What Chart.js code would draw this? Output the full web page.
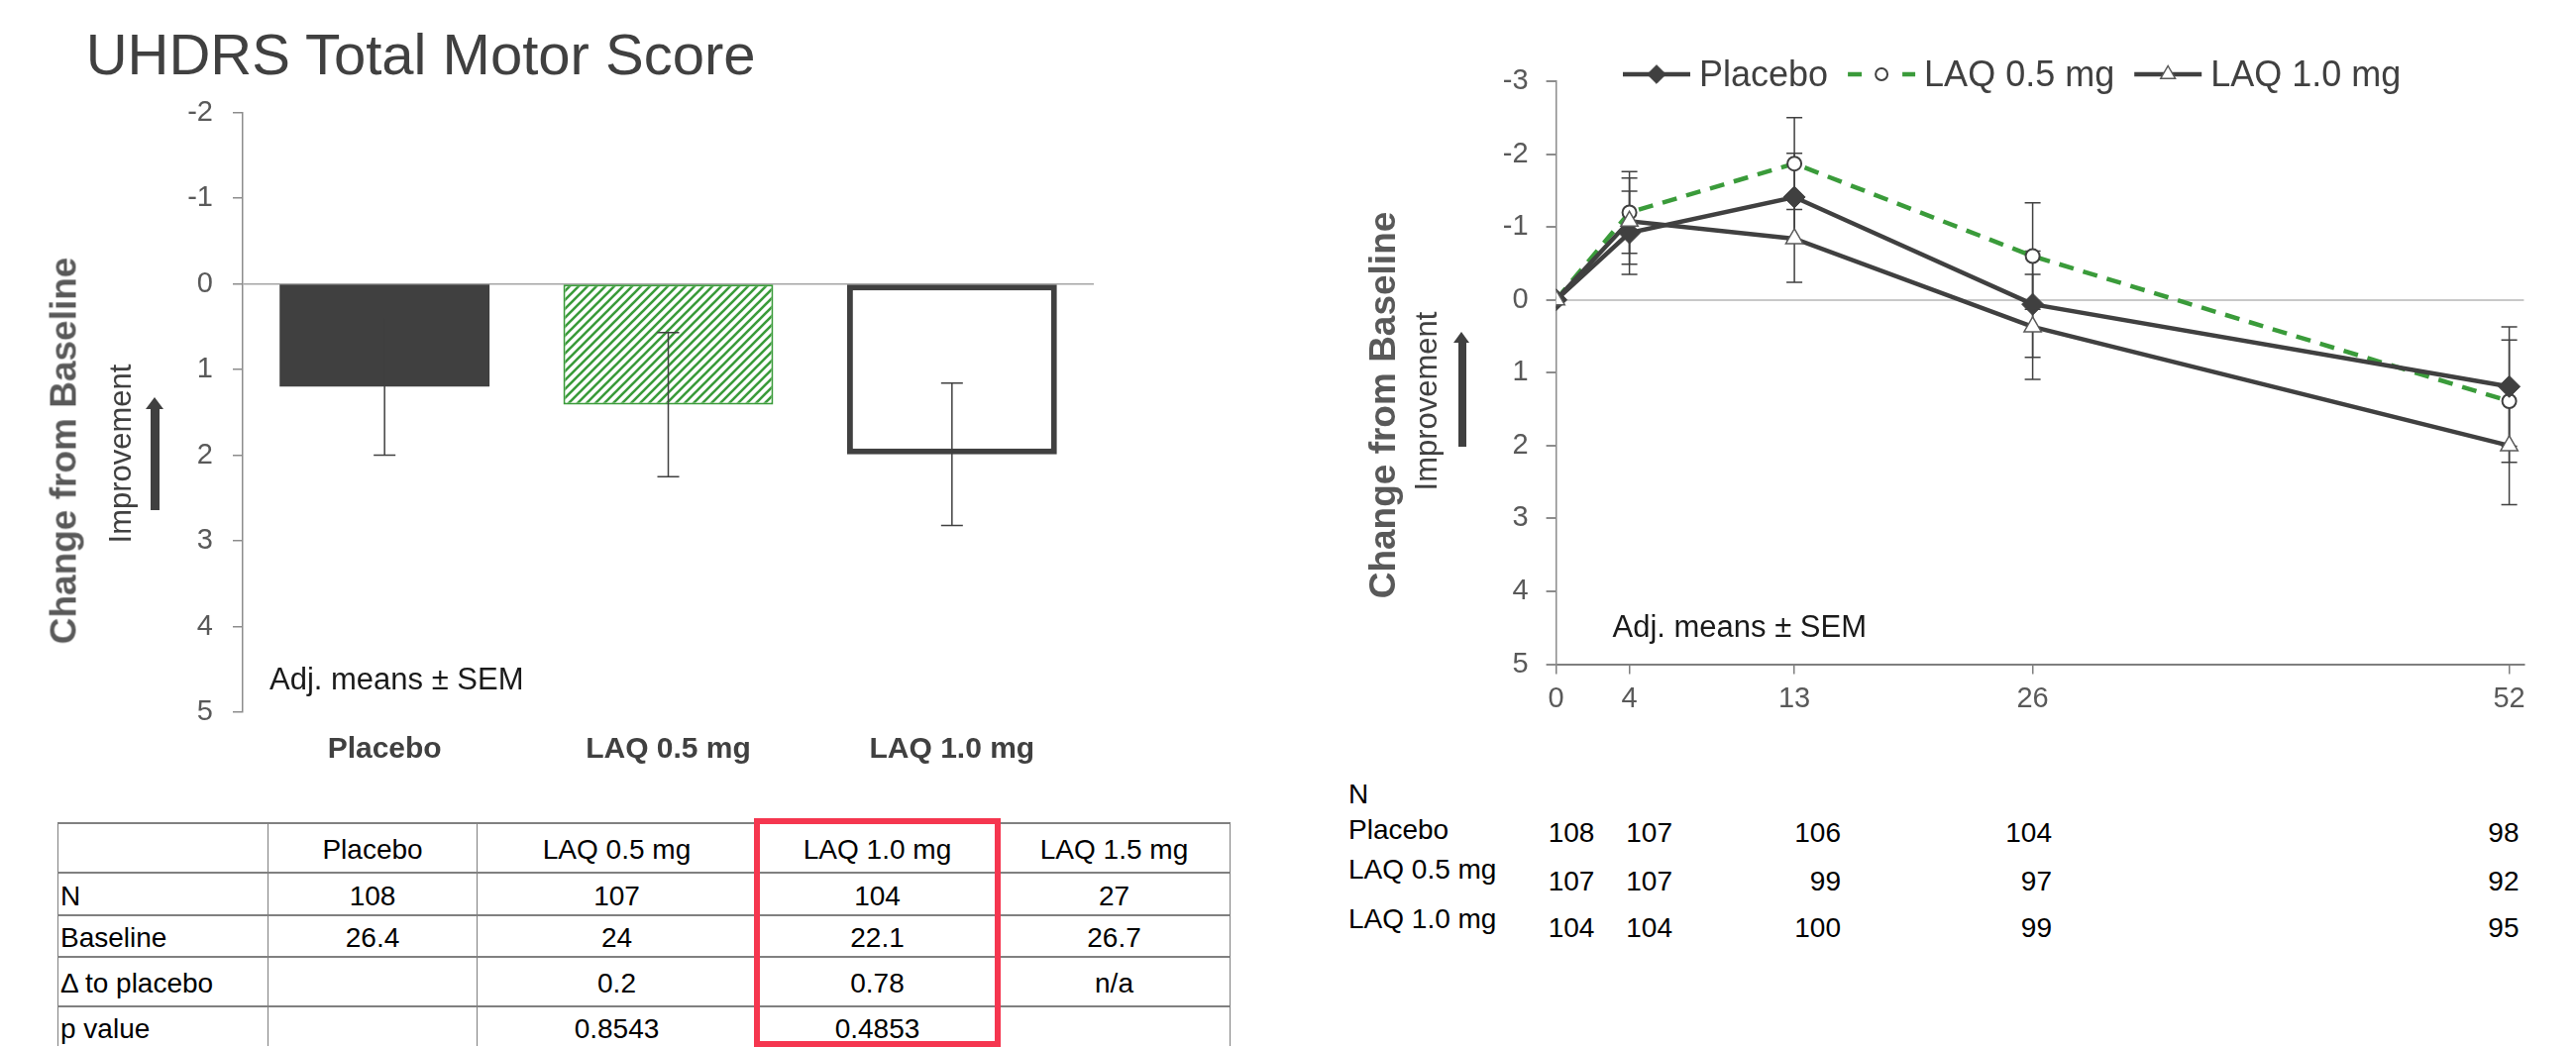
<!DOCTYPE html>
<html lang="en">
<head>
<meta charset="UTF-8">
<title>UHDRS Total Motor Score</title>
<script src="https://cdn.jsdelivr.net/npm/chart.js"></script>
<style>
  html, body { margin: 0; padding: 0; background: #fff; }
  body { position: relative; width: 2600px; height: 1057px; overflow: hidden;
         font-family: 'Liberation Sans', Arial, sans-serif; }
  .abs { position: absolute; white-space: nowrap; line-height: 1; }
  canvas { position: absolute; }
  #summary { position: absolute; left: 58px; top: 830px; border-collapse: collapse;
             font-size: 28px; color: #000; table-layout: fixed; }
  #summary td { border-left: 1px solid #7f7f7f; border-right: 1px solid #7f7f7f;
                border-top: 2px solid #808080; text-align: center; padding: 4px 0 0 0; }
  #summary td:first-child { text-align: left; padding-left: 2px; }
  #redBox { position: absolute; left: 761px; top: 826px; width: 249px; height: 231px;
            border: 6px solid #F5364F; box-sizing: border-box; }
</style>
</head>
<body>

<canvas id="barChart" width="1300" height="800" style="left:0;top:0"></canvas>
<canvas id="lineChart" width="1300" height="760" style="left:1300px;top:0"></canvas>
<table id="summary"></table>
<div id="redBox"></div>

<script>
// ---- data ----
const barCategories = ['Placebo', 'LAQ 0.5 mg', 'LAQ 1.0 mg'];
const barMeans = [1.2, 1.41, 1.99];
const barSem = [0.8, 0.84, 0.83];

const weeks = [0, 4, 13, 26, 52];
const seriesNames = ['Placebo', 'LAQ 0.5 mg', 'LAQ 1.0 mg'];
const placeboMeans = [0, -0.92, -1.41, 0.06, 1.19];
const placeboSem = [0, 0.57, 0.6, 0.73, 0.82];
const laq05Means = [0, -1.2, -1.87, -0.6, 1.39];
const laq05Sem = [0, 0.56, 0.63, 0.73, 0.84];
const laq10Means = [0, -1.08, -0.84, 0.37, 2.0];
const laq10Sem = [0, 0.59, 0.6, 0.72, 0.81];

const nPlacebo = [108, 107, 106, 104, 98];
const nLaq05 = [107, 107, 99, 97, 92];
const nLaq10 = [104, 104, 100, 99, 95];

const tableHeader = ['', 'Placebo', 'LAQ 0.5 mg', 'LAQ 1.0 mg', 'LAQ 1.5 mg'];
const tableN = ['N', '108', '107', '104', '27'];
const tableBaseline = ['Baseline', '26.4', '24', '22.1', '26.7'];
const tableDelta = ['\u0394 to placebo', '', '0.2', '0.78', 'n/a'];
const tablePValue = ['p value', '', '0.8543', '0.4853', ''];

// ---- styles ----
const DARK = '#404040';
const GREEN = '#3A9B3A';
const TICK = '#595959';
Chart.defaults.font.family = "'Liberation Sans', Arial, sans-serif";
Chart.defaults.animation = false;

// ---- text helpers ----
function addText(txt, x, base, size, opt = {}) {
  const d = document.createElement('div');
  d.className = 'abs';
  d.textContent = txt;
  d.style.fontSize = size + 'px';
  d.style.top = (base - 0.8465 * size) + 'px';
  if (opt.right) d.style.right = (2600 - x) + 'px'; else d.style.left = x + 'px';
  d.style.color = opt.color || '#000';
  if (opt.bold) d.style.fontWeight = 'bold';
  document.body.appendChild(d);
}
function addVText(txt, cx, cy, size, opt = {}) {
  const d = document.createElement('div');
  d.className = 'abs';
  d.textContent = txt;
  d.style.fontSize = size + 'px';
  d.style.left = cx + 'px';
  d.style.top = cy + 'px';
  d.style.transform = 'translate(-50%, -50%) rotate(-90deg)';
  d.style.color = opt.color || '#000';
  if (opt.bold) d.style.fontWeight = 'bold';
  document.body.appendChild(d);
}
function addArrow(cx, tip, bottom, shaftW, headW, headH) {
  const s = document.createElement('div');
  s.className = 'abs';
  Object.assign(s.style, { left: (cx - shaftW / 2) + 'px', top: (tip + headH - 1) + 'px',
    width: shaftW + 'px', height: (bottom - tip - headH + 1) + 'px', background: DARK });
  const h = document.createElement('div');
  h.className = 'abs';
  Object.assign(h.style, { left: (cx - headW / 2) + 'px', top: tip + 'px', width: 0, height: 0,
    borderLeft: (headW / 2) + 'px solid transparent', borderRight: (headW / 2) + 'px solid transparent',
    borderBottom: headH + 'px solid ' + DARK });
  document.body.appendChild(s);
  document.body.appendChild(h);
}

// ---- error bar plugin ----
function drawErrorBars(chart, opts) {
  const ctx = chart.ctx, ys = chart.scales.y;
  ctx.save();
  ctx.strokeStyle = opts.color;
  ctx.lineWidth = opts.width;
  chart.data.datasets.forEach((ds, i) => {
    if (!ds.sem) return;
    chart.getDatasetMeta(i).data.forEach((el, j) => {
      const e = ds.sem[j];
      if (!e) return;
      const v = typeof ds.data[j] === 'object' ? ds.data[j].y : ds.data[j];
      const x = el.x, y1 = ys.getPixelForValue(v - e), y2 = ys.getPixelForValue(v + e);
      ctx.beginPath();
      ctx.moveTo(x, y1); ctx.lineTo(x, y2);
      ctx.moveTo(x - opts.cap, y1); ctx.lineTo(x + opts.cap, y1);
      ctx.moveTo(x - opts.cap, y2); ctx.lineTo(x + opts.cap, y2);
      ctx.stroke();
    });
  });
  ctx.restore();
}
const errorBarPlugin = {
  id: 'errorBars',
  beforeDatasetsDraw(chart, args, opts) { if (opts.under) drawErrorBars(chart, opts); },
  afterDatasetsDraw(chart, args, opts) { if (!opts.under) drawErrorBars(chart, opts); }
};

// ---- legend with line + marker samples ----
function drawMarker(ctx, style, x, y, r, fill, stroke, lw) {
  ctx.beginPath();
  if (style === 'rectRot') {
    ctx.moveTo(x, y - r); ctx.lineTo(x + r, y); ctx.lineTo(x, y + r); ctx.lineTo(x - r, y);
  } else if (style === 'triangle') {
    ctx.moveTo(x, y - r); ctx.lineTo(x + r * 0.866, y + r * 0.5); ctx.lineTo(x - r * 0.866, y + r * 0.5);
  } else {
    ctx.arc(x, y, r, 0, Math.PI * 2);
  }
  ctx.closePath();
  ctx.fillStyle = fill; ctx.fill();
  ctx.lineWidth = lw; ctx.strokeStyle = stroke; ctx.stroke();
}
const lineLegendPlugin = {
  id: 'lineLegend',
  afterDraw(chart, args, opts) {
    const ctx = chart.ctx;
    let x = opts.x;
    const y = opts.y;
    ctx.save();
    chart.data.datasets.forEach(ds => {
      ctx.strokeStyle = ds.borderColor;
      ctx.lineWidth = ds.borderWidth;
      ctx.setLineDash(ds.borderDash ? opts.dash : []);
      ctx.beginPath(); ctx.moveTo(x, y); ctx.lineTo(x + opts.sample, y); ctx.stroke();
      ctx.setLineDash([]);
      drawMarker(ctx, ds.pointStyle, x + opts.sample / 2, y, ds.pointRadius * 0.85,
        ds.pointBackgroundColor, ds.pointBorderColor, ds.pointBorderWidth);
      ctx.font = opts.font;
      ctx.fillStyle = opts.color;
      ctx.textBaseline = 'alphabetic';
      const tx = x + opts.sample + opts.textGap;
      ctx.fillText(ds.label, tx, y + opts.baseShift);
      x = tx + ctx.measureText(ds.label).width + opts.itemGap;
    });
    ctx.restore();
  }
};

// ---- hatch pattern ----
function hatch(ctxTarget, color) {
  const c = document.createElement('canvas');
  c.width = 9; c.height = 9;
  const g = c.getContext('2d');
  g.fillStyle = '#fff'; g.fillRect(0, 0, 9, 9);
  g.strokeStyle = color; g.lineWidth = 2.6;
  g.beginPath();
  g.moveTo(0, 9); g.lineTo(9, 0);
  g.moveTo(-1, 1); g.lineTo(1, -1);
  g.moveTo(8, 10); g.lineTo(10, 8);
  g.stroke();
  return ctxTarget.createPattern(c, 'repeat');
}

// ---- left: bar chart ----
const barCtx = document.getElementById('barChart').getContext('2d');
new Chart(barCtx, {
  type: 'bar',
  data: {
    labels: barCategories,
    datasets: [{
      data: barMeans,
      sem: barSem,
      backgroundColor: [DARK, hatch(barCtx, GREEN), '#fff'],
      borderColor: [DARK, GREEN, DARK],
      borderWidth: [0, 2, 6],
      borderSkipped: false,
      barPercentage: 0.74,
      categoryPercentage: 1.0
    }]
  },
  options: {
    responsive: false,
    layout: { padding: { left: 0, top: 113.5, right: 196, bottom: 0 } },
    plugins: {
      legend: { display: false },
      tooltip: { enabled: false },
      errorBars: { under: false, color: DARK, width: 1.5, cap: 11 }
    },
    scales: {
      x: {
        grid: { display: false, drawTicks: false },
        border: { display: false },
        ticks: { color: DARK, font: { size: 30, weight: 'bold' }, padding: 20 },
        afterFit: s => { s.height = 81; s.paddingLeft = 0; s.paddingRight = 0; }
      },
      y: {
        reverse: true, min: -2, max: 5,
        ticks: { stepSize: 1, color: TICK, font: { size: 29 }, padding: 20 },
        grid: {
          color: c => (c.tick && c.tick.value === 0) ? '#a6a6a6' : 'rgba(0,0,0,0)',
          lineWidth: 1.5, tickColor: '#8c8c8c', tickLength: 10
        },
        border: { color: '#8c8c8c', width: 1.5 },
        afterFit: s => { s.width = 245; s.paddingTop = 0; s.paddingBottom = 0; }
      }
    }
  },
  plugins: [errorBarPlugin]
});

// ---- right: line chart ----
const toPoints = vals => weeks.map((w, i) => ({ x: w, y: vals[i] }));
new Chart(document.getElementById('lineChart'), {
  type: 'line',
  data: {
    datasets: [{
      label: seriesNames[0], data: toPoints(placeboMeans), sem: placeboSem, order: 2,
      borderColor: DARK, borderWidth: 4.5,
      pointStyle: 'rectRot', pointRadius: 11,
      pointBackgroundColor: DARK, pointBorderColor: DARK, pointBorderWidth: 1
    }, {
      label: seriesNames[1], data: toPoints(laq05Means), sem: laq05Sem, order: 3,
      borderColor: GREEN, borderWidth: 4.5, borderDash: [15, 10],
      pointStyle: 'circle', pointRadius: 7,
      pointBackgroundColor: '#fff', pointBorderColor: DARK, pointBorderWidth: 2
    }, {
      label: seriesNames[2], data: toPoints(laq10Means), sem: laq10Sem, order: 1,
      borderColor: DARK, borderWidth: 4.5,
      pointStyle: 'triangle', pointRadius: 10,
      pointBackgroundColor: '#fff', pointBorderColor: '#595959', pointBorderWidth: 1.5
    }]
  },
  options: {
    responsive: false,
    layout: { padding: { left: 0, top: 82, right: 52.6, bottom: 0 } },
    plugins: {
      legend: { display: false },
      tooltip: { enabled: false },
      errorBars: { under: true, color: DARK, width: 1.5, cap: 8 },
      lineLegend: { x: 338, y: 75, sample: 68, textGap: 9, itemGap: 20, dash: [14, 41],
                    baseShift: 12, font: "36px 'Liberation Sans', Arial, sans-serif", color: DARK }
    },
    scales: {
      x: {
        type: 'linear', min: 0, max: 52.8,
        afterBuildTicks: s => { s.ticks = weeks.map(v => ({ value: v })); },
        ticks: { color: TICK, font: { size: 29 }, padding: 7.5, autoSkip: false, maxRotation: 0 },
        grid: { drawOnChartArea: false, tickLength: 10, tickColor: '#7f7f7f', lineWidth: 1.5 },
        border: { color: '#7f7f7f', width: 2 },
        afterFit: s => { s.height = 89.4; s.paddingLeft = 0; s.paddingRight = 0; }
      },
      y: {
        reverse: true, min: -3, max: 5,
        ticks: { stepSize: 1, color: TICK, font: { size: 29 }, padding: 18 },
        grid: {
          color: c => (c.tick && c.tick.value === 0) ? '#c8c8c8' : 'rgba(0,0,0,0)',
          lineWidth: 2, tickColor: '#8c8c8c', tickLength: 10
        },
        border: { color: '#8c8c8c', width: 1.5 },
        afterFit: s => { s.width = 270.6; s.paddingTop = 0; s.paddingBottom = 0; }
      }
    }
  },
  plugins: [errorBarPlugin, lineLegendPlugin]
});

// ---- titles and annotations ----
addText('UHDRS Total Motor Score', 86.7, 75, 58, { color: DARK });
addVText('Change from Baseline', 64, 455, 37, { bold: true, color: TICK });
addVText('Improvement', 121, 458, 31, { color: DARK });
addArrow(156, 400.5, 515, 9, 19, 12);
addText('Adj. means \u00B1 SEM', 272, 696, 31, { color: '#1a1a1a' });

addVText('Change from Baseline', 1395, 408.5, 37, { bold: true, color: TICK });
addVText('Improvement', 1439, 405, 31, { color: DARK });
addArrow(1475.5, 335, 451, 8, 17, 11);
addText('Adj. means \u00B1 SEM', 1627.5, 643.5, 31, { color: '#1a1a1a' });

// ---- N at risk under the line chart ----
const nRows = [nPlacebo, nLaq05, nLaq10];
const nLabelBase = [848, 888, 937.7];
const nValueBase = [851, 900, 946.7];
const nRightEdges = [1609.4, 1688, 1858, 2071, 2542.5];
addText('N', 1361, 811.7, 28);
nRows.forEach((row, r) => {
  addText(seriesNames[r], 1361, nLabelBase[r], 28);
  row.forEach((v, c) => addText(String(v), nRightEdges[c], nValueBase[r], 28, { right: true }));
});

// ---- summary table ----
const colWidths = [212, 211, 282, 244, 234];
const rowHeights = [50, 43, 42, 50, 40];
const table = document.getElementById('summary');
const cg = document.createElement('colgroup');
colWidths.forEach(w => { const c = document.createElement('col'); c.style.width = w + 'px'; cg.appendChild(c); });
table.appendChild(cg);
[tableHeader, tableN, tableBaseline, tableDelta, tablePValue].forEach((row, r) => {
  const tr = document.createElement('tr');
  tr.style.height = rowHeights[r] + 'px';
  row.forEach(cell => {
    const td = document.createElement('td');
    td.textContent = cell;
    tr.appendChild(td);
  });
  table.appendChild(tr);
});
</script>

</body>
</html>
